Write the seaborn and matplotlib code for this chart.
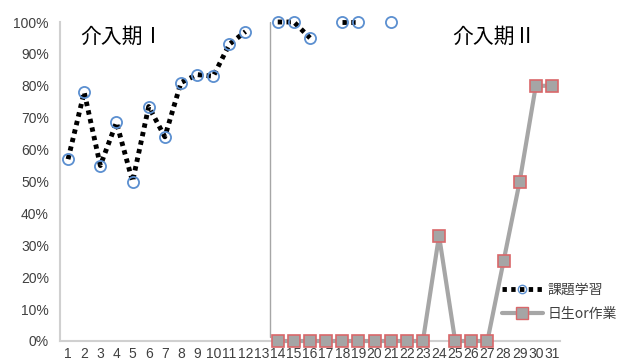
import numpy as np
import pandas as pd
import matplotlib
matplotlib.use("Agg")
import matplotlib.pyplot as plt
import seaborn as sns
from matplotlib.lines import Line2D
from matplotlib.ticker import PercentFormatter

sessions = list(range(1, 32))
# 課題学習 (NaN = no data)
kadai = [57, 78, 55, 68.5, 50, 73.5, 64, 81, 83.5, 83, 93, 97,
         np.nan, 100, 100, 95, np.nan, 100, 100, np.nan, 100,
         np.nan, np.nan, np.nan, np.nan, np.nan, np.nan, np.nan, np.nan, np.nan, np.nan]
# 日生or作業
nissei = [np.nan] * 13 + [0, 0, 0, 0, 0, 0, 0, 0, 0, 0, 33, 0, 0, 0, 25, 50, 80, 80]
series_names = ["課題学習", "日生or作業"]
phase_labels = ["介入期Ⅰ", "介入期Ⅱ"]

sns.set_theme(style="white")
plt.rcParams['font.family'] = ['Liberation Sans', 'Noto Sans CJK JP', 'DejaVu Sans']

def runs(x, y):
    df = pd.DataFrame({"x": x, "y": np.array(y, dtype=float) / 100.0})
    df["run"] = df["y"].isna().cumsum()
    return df.dropna()

fig = plt.figure(figsize=(6.26, 3.64), dpi=100)
ax = fig.add_axes([60 / 626, 23 / 364, 500 / 626, 319 / 364])

blue = "#5B8FD0"
d1 = runs(sessions, kadai)
d2 = runs(sessions, nissei)

sns.lineplot(data=d2, x="x", y="y", units="run", estimator=None, ax=ax,
             color="#A6A6A6", lw=3, marker="s", markersize=8.5,
             markerfacecolor="#A5A5A5", markeredgecolor="#D9676A", markeredgewidth=1.2,
             clip_on=False, zorder=3)
sns.lineplot(data=d1, x="x", y="y", units="run", estimator=None, ax=ax,
             color="black", lw=3.5, linestyle=(0, (0.9, 0.9)), marker="o", markersize=8,
             markerfacecolor="none", markeredgecolor=blue, markeredgewidth=1.3,
             clip_on=False, zorder=4)

ax.set_xlim(0.5, 31.5)
ax.set_ylim(0, 1)
ax.set_xticks(sessions)
ax.set_xticklabels([str(s) for s in sessions])
ax.set_yticks(np.arange(0, 1.01, 0.1))
ax.yaxis.set_major_formatter(PercentFormatter(1.0, decimals=0))
ax.tick_params(axis="both", length=0, labelsize=10, colors="#404040")
ax.tick_params(axis="x", pad=4)
ax.tick_params(axis="y", pad=8)
ax.set_xlabel("")
ax.set_ylabel("")
for s in ["top", "right"]:
    ax.spines[s].set_visible(False)
for s in ["left", "bottom"]:
    ax.spines[s].set_color("#D0D0D0")
    ax.spines[s].set_linewidth(1.5)

ax.axvline(13.5, ymin=0.012, ymax=1.0, color="#A6A6A6", lw=1, zorder=1)

ax.text(0.04, 0.955, phase_labels[0], transform=ax.transAxes, fontsize=15,
        family=['Noto Sans CJK JP'], va="center", ha="left", color="black")
ax.text(0.785, 0.955, phase_labels[1], transform=ax.transAxes, fontsize=15,
        family=['Noto Sans CJK JP'], va="center", ha="left", color="black")

handles = [
    Line2D([], [], color="black", lw=3.5, linestyle=(0, (0.9, 0.9)), marker="o", markersize=6,
           markerfacecolor="none", markeredgecolor=blue, markeredgewidth=1),
    Line2D([], [], color="#A6A6A6", lw=3, marker="s", markersize=8,
           markerfacecolor="#A5A5A5", markeredgecolor="#D9676A", markeredgewidth=1),
]
leg = fig.legend(handles, series_names, loc="center left", bbox_to_anchor=(496 / 626, 62 / 364),
                 frameon=False, fontsize=10, handlelength=3, handletextpad=0.3,
                 labelspacing=0.7, borderaxespad=0)
for t in leg.get_texts():
    t.set_family(['Noto Sans CJK JP', 'DejaVu Sans'])
    t.set_color("#404040")

fig.savefig("out.png", dpi=100, facecolor="white")
